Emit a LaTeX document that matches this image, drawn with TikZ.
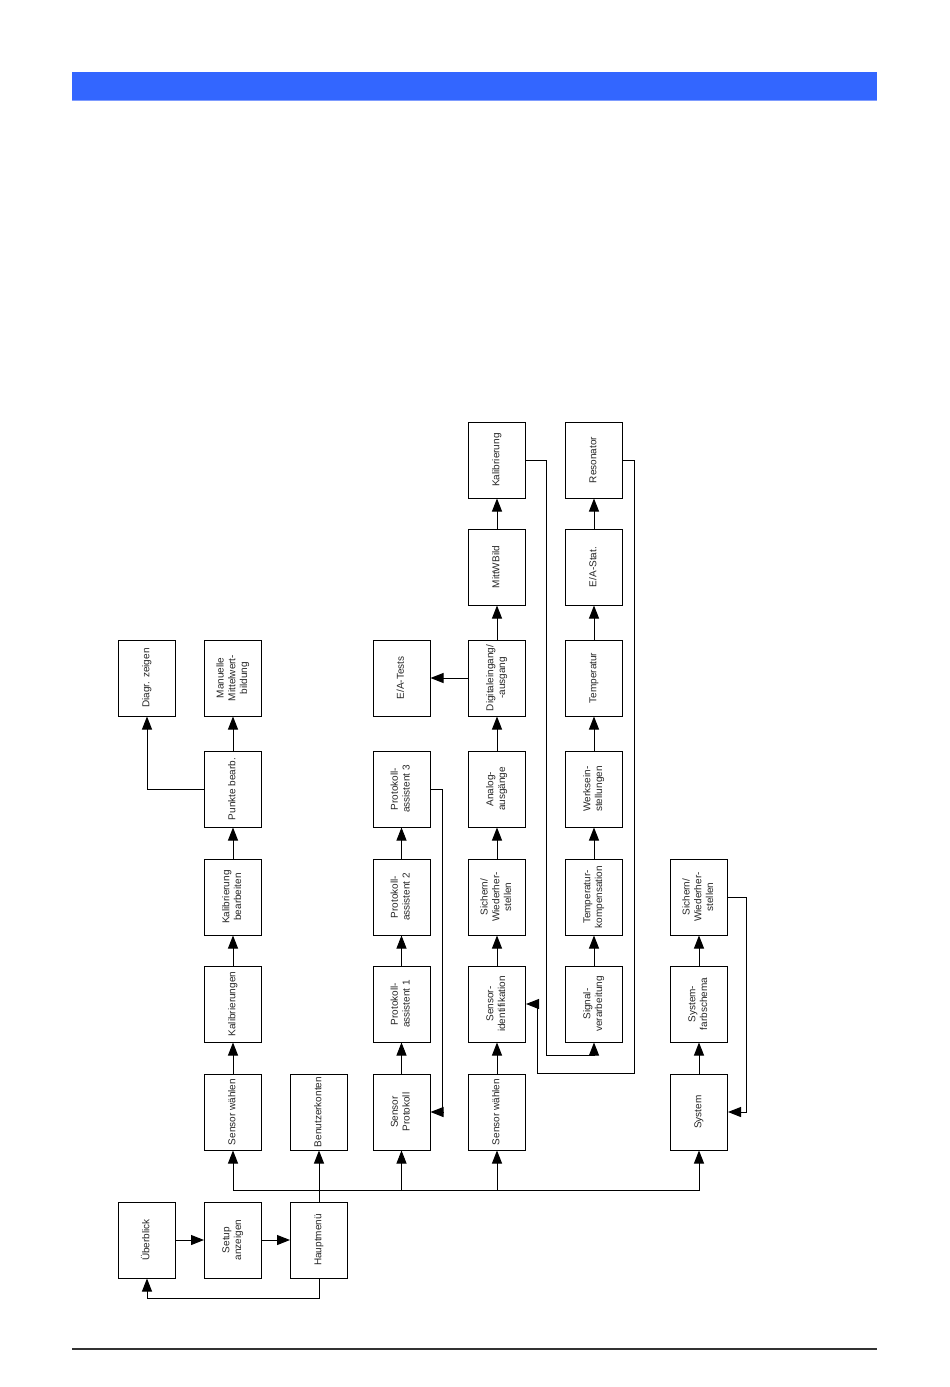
\documentclass[tikz,border=0pt]{standalone}
\usepackage{fontspec}
\setmainfont{Liberation Sans}
\usetikzlibrary{arrows.meta}
\definecolor{barblue}{HTML}{3366FF}
\definecolor{barline}{HTML}{7F9CFF}
\definecolor{rulegray}{HTML}{333333}
\newcommand{\rt}[1]{\rotatebox{90}{\begin{tabular}{@{}c@{}}#1\end{tabular}}}
\tikzset{
  box/.style={draw, line width=1pt, minimum width=57pt, minimum height=76pt, inner sep=0pt,
    font=\fontsize{10}{11.7}\selectfont, text=black!85},
  arr/.style={line width=1pt, -{Triangle[length=13pt,width=10pt]}},
  ln/.style={line width=1pt}
}
\begin{document}
\begin{tikzpicture}[x=1pt,y=-1pt]
\useasboundingbox (0,0) rectangle (950,1387);
% header and footer
\fill[barblue] (72,72) rectangle (877,100);
\draw[barline, line width=1pt] (72,100) -- (877,100);
\draw[rulegray, line width=2pt] (72,1349) -- (877,1349);

% row 8
\node[box] (ub) at (147,1240) {\rt{Überblick}};
\node[box] (setup) at (233,1240) {\rt{Setup\\anzeigen}};
\node[box] (haupt) at (319,1240) {\rt{Hauptmenü}};

% column B
\node[box] (swA) at (233,1112) {\rt{Sensor wählen}};
\node[box] (kals) at (233,1004) {\rt{Kalibrierungen}};
\node[box] (kalb) at (233,897) {\rt{Kalibrierung\\bearbeiten}};
\node[box] (punkte) at (233,789) {\rt{Punkte bearb.}};
\node[box] (manu) at (233,678) {\rt{Manuelle\\Mittelwert-\\bildung}};
% column A
\node[box] (diagr) at (147,678) {\rt{Diagr. zeigen}};
% column C
\node[box] (benutz) at (319,1112) {\rt{Benutzerkonten}};
% column D
\node[box] (sp) at (401.5,1112) {\rt{Sensor\\Protokoll}};
\node[box] (pa1) at (401.5,1004) {\rt{Protokoll-\\assistent 1}};
\node[box] (pa2) at (401.5,897) {\rt{Protokoll-\\assistent 2}};
\node[box] (pa3) at (401.5,789) {\rt{Protokoll-\\assistent 3}};
\node[box] (eat) at (401.5,678) {\rt{E/A-Tests}};
% column E
\node[box] (swE) at (497,1112) {\rt{Sensor wählen}};
\node[box] (sid) at (497,1004) {\rt{Sensor-\\identifikation}};
\node[box] (sichE) at (497,897) {\rt{Sichern/\\Wiederher-\\stellen}};
\node[box] (ana) at (497,789) {\rt{Analog-\\ausgänge}};
\node[box] (dig) at (497,678) {\rt{Digitaleingang/\\-ausgang}};
\node[box] (mitt) at (497,567) {\rt{MittWBild}};
\node[box] (kal) at (497,460) {\rt{Kalibrierung}};
% column F
\node[box] (sig) at (594,1004) {\rt{Signal-\\verarbeitung}};
\node[box] (tk) at (594,897) {\rt{Temperatur-\\kompensation}};
\node[box] (werk) at (594,789) {\rt{Werksein-\\stellungen}};
\node[box] (temp) at (594,678) {\rt{Temperatur}};
\node[box] (eas) at (594,567) {\rt{E/A-Stat.}};
\node[box] (res) at (594,460) {\rt{Resonator}};
% column G
\node[box] (sys) at (699,1112) {\rt{System}};
\node[box] (sfs) at (699,1004) {\rt{System-\\farbschema}};
\node[box] (sichG) at (699,897) {\rt{Sichern/\\Wiederher-\\stellen}};

% row 8 connectors
\draw[arr] (ub) -- (setup);
\draw[arr] (setup) -- (haupt);
\draw[arr] (haupt.south) -- ++(0,20) -| (ub.south);

% bus
\coordinate (bus) at (319,1190);
\draw[ln] (haupt.north) -- (bus);
\draw[arr] (bus) -| (swA.south);
\draw[arr] (bus) -- (benutz.south);
\draw[arr] (bus) -| (sp.south);
\draw[arr] (bus) -| (swE.south);
\draw[arr] (bus) -| (sys.south);

% column B chain
\draw[arr] (swA) -- (kals);
\draw[arr] (kals) -- (kalb);
\draw[arr] (kalb) -- (punkte);
\draw[arr] (punkte) -- (manu);
\draw[arr] (punkte.west) -| (diagr.south);

% column D chain
\draw[arr] (sp) -- (pa1);
\draw[arr] (pa1) -- (pa2);
\draw[arr] (pa2) -- (pa3);
\draw[arr] (pa3.east) -- ++(12,0) |- (sp.east);

% column E chain
\draw[arr] (swE) -- (sid);
\draw[arr] (sid) -- (sichE);
\draw[arr] (sichE) -- (ana);
\draw[arr] (ana) -- (dig);
\draw[arr] (dig) -- (mitt);
\draw[arr] (mitt) -- (kal);
\draw[arr] (dig) -- (eat);

% column F chain
\draw[arr] (sig) -- (tk);
\draw[arr] (tk) -- (werk);
\draw[arr] (werk) -- (temp);
\draw[arr] (temp) -- (eas);
\draw[arr] (eas) -- (res);

% column G chain
\draw[arr] (sys) -- (sfs);
\draw[arr] (sfs) -- (sichG);
\draw[arr] (sichG.east) -- ++(18,0) |- (sys.east);

% long loops
\coordinate (k1) at (546,1055);
\draw[arr] (kal.east) -| (k1) -| (sig.south);
\coordinate (r1) at (634,1073);
\coordinate (r2) at (537,1073);
\draw[arr] (res.east) -| (r1) -- (r2) |- (sid.east);
\end{tikzpicture}
\end{document}
